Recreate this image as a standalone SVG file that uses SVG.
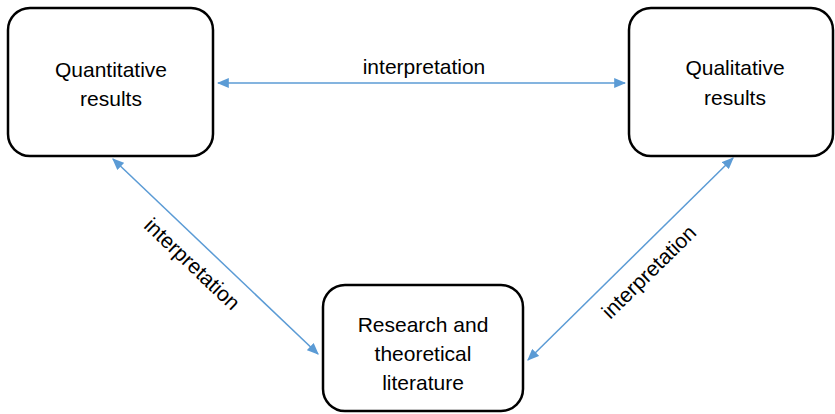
<svg xmlns="http://www.w3.org/2000/svg" width="835" height="414" viewBox="0 0 835 414">
<style>
.box{fill:#fff;stroke:#000;stroke-width:2.5}
.t{font-family:"Liberation Sans",Arial,sans-serif;font-size:21px;fill:#000;text-anchor:middle}
.c{stroke:#5B9BD5;stroke-width:1.5;fill:none;marker-start:url(#a);marker-end:url(#a)}
</style>
<defs>
<marker id="a" viewBox="0 0 10 10" refX="9" refY="5" markerWidth="12" markerHeight="10" markerUnits="userSpaceOnUse" orient="auto-start-reverse" preserveAspectRatio="none">
<path d="M0,0 L10,5 L0,10 z" fill="#5B9BD5"/>
</marker>
</defs>
<rect width="835" height="414" fill="#fff"/>
<g id="connectors">
<line class="c" x1="218" y1="83" x2="625" y2="83"/>
<line class="c" x1="113" y1="159" x2="318" y2="354"/>
<line class="c" x1="733" y1="158" x2="528" y2="360"/>
<text class="t" x="424" y="74">interpretation</text>
<text class="t" transform="translate(192,264) rotate(43.5)" x="0" y="7">interpretation</text>
<text class="t" transform="translate(649,272) rotate(-44.5)" x="0" y="7">interpretation</text>
</g>
<g id="quantitative">
<rect class="box" x="8" y="8" width="205" height="148" rx="22"/>
<text class="t" x="111" y="77">Quantitative</text>
<text class="t" x="111" y="106">results</text>
</g>
<g id="qualitative">
<rect class="box" x="629" y="8" width="204" height="148" rx="22"/>
<text class="t" x="735" y="75">Qualitative</text>
<text class="t" x="735" y="105">results</text>
</g>
<g id="research">
<rect class="box" x="323" y="285" width="200" height="126" rx="22"/>
<text class="t" x="423" y="332">Research and</text>
<text class="t" x="423" y="361">theoretical</text>
<text class="t" x="423" y="390">literature</text>
</g>
</svg>
